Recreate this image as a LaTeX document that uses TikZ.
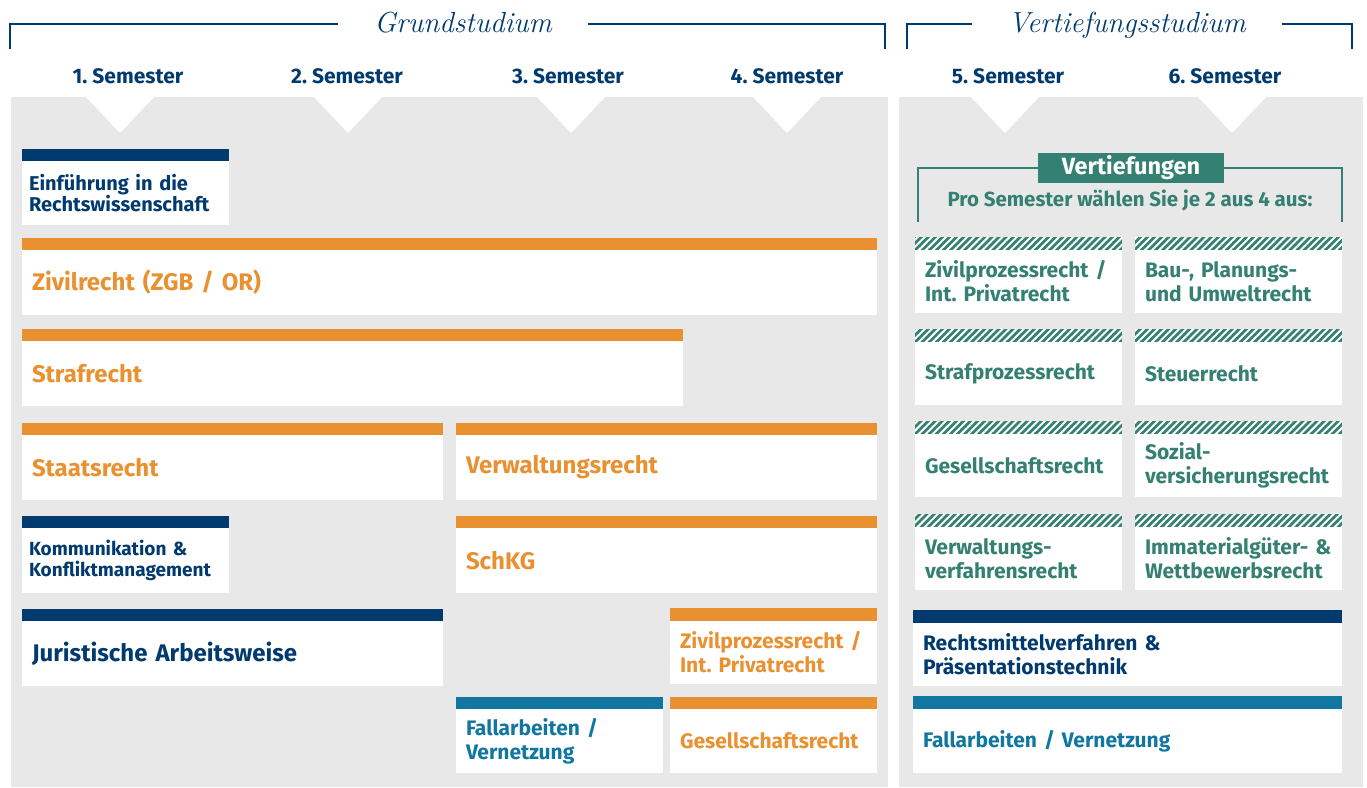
\documentclass[tikz,border=0pt]{standalone}
\usepackage{fontspec}
\newfontfamily\lato{Fira Sans}
\usetikzlibrary{positioning,patterns.meta}
\definecolor{navy}{RGB}{0,58,110}
\definecolor{uniorange}{RGB}{233,145,48}
\definecolor{caseblue}{RGB}{17,119,160}
\definecolor{electgreen}{RGB}{52,128,114}
\definecolor{panelgray}{RGB}{232,232,232}
\frenchspacing
\tikzset{
  semester/.style = {font=\lato\bfseries\fontsize{21}{24}\selectfont, text=navy},
  phase/.style    = {font=\itshape\fontsize{29}{32}\selectfont, text=navy, inner xsep=36pt,
                     text height=18pt, text depth=2pt},
  bracket/.style  = {navy, line width=2pt},
  electline/.style = {electgreen, line width=1.5pt},
  notch/.style    = {fill=white},
  course/.style   = {fill=white, anchor=north west, inner xsep=10pt, inner ysep=0pt, outer sep=0pt,
                     align=left, text=#1, font=\lato\bfseries\fontsize{21}{24}\selectfont},
  big/.style      = {font=\lato\bfseries\fontsize{24}{26}\selectfont},
  small/.style    = {inner xsep=7pt, font=\lato\bfseries\fontsize{20}{21}\selectfont},
  hatch/.style    = {fill=electgreen, postaction={pattern={Lines[angle=45,distance=5pt,line width=2pt]},
                     pattern color=white}}
}
\begin{document}
\begin{tikzpicture}[x=1pt,y=-1pt]
\useasboundingbox (0,0) rectangle (1367,787);
% phases
\node[phase] (grund) at (463,24) {Grundstudium};
\draw[bracket] (10,49) |- (grund.west);
\draw[bracket] (grund.east) -| (885,49);
\node[phase] (vertst) at (1127,24) {Vertiefungsstudium};
\draw[bracket] (907,49) |- (vertst.west);
\draw[bracket] (vertst.east) -| (1352,49);
% semesters
\node[semester] (sem1) at (128,76) {1. Semester};
\node[semester] (sem2) at (347,76) {2. Semester};
\node[semester] (sem3) at (568,76) {3. Semester};
\node[semester] (sem4) at (787,76) {4. Semester};
\node[semester] (sem5) at (1008,76) {5. Semester};
\node[semester] (sem6) at (1225,76) {6. Semester};
\fill[panelgray] (11,97) rectangle (888,787);
\fill[panelgray] (899,97) rectangle (1363,787);
\fill[notch] (120,133) -- ++(-34,-36) -- ++(68,0) -- cycle;
\fill[notch] (348,133) -- ++(-34,-36) -- ++(68,0) -- cycle;
\fill[notch] (571,133) -- ++(-34,-36) -- ++(68,0) -- cycle;
\fill[notch] (787,133) -- ++(-34,-36) -- ++(68,0) -- cycle;
\fill[notch] (1005,133) -- ++(-34,-36) -- ++(68,0) -- cycle;
\fill[notch] (1232,133) -- ++(-34,-36) -- ++(68,0) -- cycle;
% Grundstudium
\node[course=navy, small, text width=193pt, minimum height=64pt] (einf) at (22,161) {Einführung in die\\Rechtswissenschaft};
\fill[navy] (einf.north west) rectangle ([yshift=12pt]einf.north east);
\node[course=uniorange, big, text width=835pt, minimum height=65pt] (zgb) at (22,250) {Zivilrecht (ZGB / OR)};
\fill[uniorange] (zgb.north west) rectangle ([yshift=12pt]zgb.north east);
\node[course=uniorange, big, text width=641pt, minimum height=65pt] (straf) at (22,341) {Strafrecht};
\fill[uniorange] (straf.north west) rectangle ([yshift=12pt]straf.north east);
\node[course=uniorange, big, text width=401pt, minimum height=65pt] (staat) at (22,435) {Staatsrecht};
\fill[uniorange] (staat.north west) rectangle ([yshift=12pt]staat.north east);
\node[course=uniorange, big, text width=401pt, minimum height=65pt] (verw) at (456,435) {Verwaltungsrecht};
\fill[uniorange] (verw.north west) rectangle ([yshift=12pt]verw.north east);
\node[course=navy, small, text width=193pt, minimum height=65pt, font=\lato\bfseries\fontsize{19}{21}\selectfont] (komm) at (22,528) {Kommunikation \&\\Konfliktmanagement};
\fill[navy] (komm.north west) rectangle ([yshift=12pt]komm.north east);
\node[course=uniorange, big, text width=401pt, minimum height=65pt] (schkg) at (456,528) {SchKG};
\fill[uniorange] (schkg.north west) rectangle ([yshift=12pt]schkg.north east);
\node[course=navy, big, text width=401pt, minimum height=65pt] (jur) at (22,621) {Juristische Arbeitsweise};
\fill[navy] (jur.north west) rectangle ([yshift=12pt]jur.north east);
\node[course=uniorange, text width=187pt, minimum height=63pt] (zpo) at (670,621) {Zivilprozessrecht /\\Int. Privatrecht};
\fill[uniorange] (zpo.north west) rectangle ([yshift=13pt]zpo.north east);
\node[course=caseblue, text width=187pt, minimum height=64pt] (fall) at (456,709) {Fallarbeiten /\\Vernetzung};
\fill[caseblue] (fall.north west) rectangle ([yshift=12pt]fall.north east);
\node[course=uniorange, text width=187pt, minimum height=64pt] (ges) at (670,709) {Gesellschaftsrecht};
\fill[uniorange] (ges.north west) rectangle ([yshift=12pt]ges.north east);
% Vertiefungsstudium
\node[fill=electgreen, text=white, font=\lato\bfseries\fontsize{23.5}{25}\selectfont, minimum width=186pt,
      minimum height=30pt, inner sep=0pt] (vert) at (1131,168) {Vertiefungen};
\draw[electline] (918,222) |- (vert.west);
\draw[electline] (vert.east) -| (1342,222);
\node[font=\lato\bfseries\fontsize{20.5}{22}\selectfont, text=electgreen] (wahl) at (1130,200) {Pro Semester wählen Sie je 2 aus 4 aus:};
\node[course=electgreen, text width=187pt, minimum height=63pt] (v1) at (915,250) {Zivilprozessrecht /\\Int. Privatrecht};
\fill[hatch] (v1.north west) rectangle ([yshift=13pt]v1.north east);
\node[course=electgreen, text width=187pt, minimum height=63pt] (v2) at (1135,250) {Bau-, Planungs-\\und Umweltrecht};
\fill[hatch] (v2.north west) rectangle ([yshift=13pt]v2.north east);
\node[course=electgreen, text width=187pt, minimum height=63pt] (v3) at (915,342) {Strafprozessrecht};
\fill[hatch] (v3.north west) rectangle ([yshift=13pt]v3.north east);
\node[course=electgreen, text width=187pt, minimum height=63pt] (v4) at (1135,342) {Steuerrecht};
\fill[hatch] (v4.north west) rectangle ([yshift=13pt]v4.north east);
\node[course=electgreen, text width=187pt, minimum height=63pt] (v5) at (915,434) {Gesellschaftsrecht};
\fill[hatch] (v5.north west) rectangle ([yshift=13pt]v5.north east);
\node[course=electgreen, text width=187pt, minimum height=63pt] (v6) at (1135,434) {Sozial-\\versicherungsrecht};
\fill[hatch] (v6.north west) rectangle ([yshift=13pt]v6.north east);
\node[course=electgreen, text width=187pt, minimum height=63pt] (v7) at (915,527) {Verwaltungs-\\verfahrensrecht};
\fill[hatch] (v7.north west) rectangle ([yshift=13pt]v7.north east);
\node[course=electgreen, text width=187pt, minimum height=63pt] (v8) at (1135,527) {Immaterialgüter- \&\\Wettbewerbsrecht};
\fill[hatch] (v8.north west) rectangle ([yshift=13pt]v8.north east);
\node[course=navy, text width=409pt, minimum height=63pt] (rmv) at (913,623) {Rechtsmittelverfahren \&\\Präsentationstechnik};
\fill[navy] (rmv.north west) rectangle ([yshift=13pt]rmv.north east);
\node[course=caseblue, text width=409pt, minimum height=64pt] (fall2) at (913,709) {Fallarbeiten / Vernetzung};
\fill[caseblue] (fall2.north west) rectangle ([yshift=13pt]fall2.north east);
\end{tikzpicture}
\end{document}
